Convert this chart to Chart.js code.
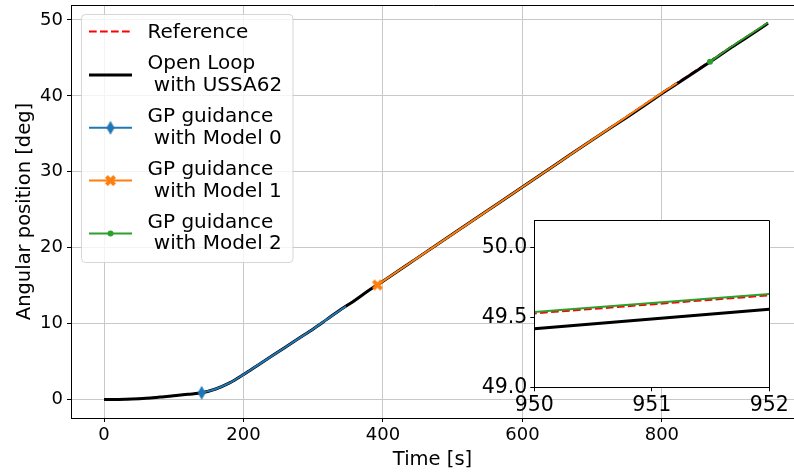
<!DOCTYPE html>
<html>
<head>
<meta charset="utf-8">
<script src="https://cdn.jsdelivr.net/npm/chart.js@4.4.1/dist/chart.umd.min.js"></script>
<style>
  html, body { margin: 0; padding: 0; overflow: hidden; background: #fff; }
  #wrap { position: relative; width: 794px; height: 472px; overflow: hidden; }
  #main { position: absolute; left: 0; top: 0; }
  #inset { position: absolute; left: 470px; top: 205px; }
</style>
</head>
<body>
<div id="wrap">
  <canvas id="main" width="794" height="472"></canvas>
  <canvas id="inset" width="324" height="230"></canvas>
</div>
<script>
// ---- data: time [s] and angular position [deg] ----
const timeOpenLoop = [0, 20, 40, 60, 80, 100, 120, 140, 160, 180, 200, 220, 240, 260, 280, 300, 320, 340, 360, 380, 400, 450, 500, 550, 600, 650, 700, 750, 800, 850, 900, 950, 952];
const angleOpenLoop = [0, 0.02, 0.07, 0.17, 0.33, 0.5, 0.7, 0.9, 1.4, 2.2, 3.3, 4.5, 5.7, 6.9, 8.1, 9.3, 10.6, 11.9, 13.1, 14.4, 15.6, 18.7, 21.8, 24.9, 28.0, 31.1, 34.2, 37.2, 40.3, 43.3, 46.4, 49.42, 49.56];

const timeReference = [0, 20, 40, 60, 80, 100, 120, 140, 160, 180, 200, 220, 240, 260, 280, 300, 320, 340, 360, 380, 400, 450, 500, 550, 600, 650, 700, 750, 800, 850, 900, 950, 952];
const angleReference = [0, 0.02, 0.07, 0.17, 0.33, 0.5, 0.7, 0.9, 1.4, 2.2, 3.3, 4.5, 5.7, 6.9, 8.1, 9.3, 10.6, 11.9, 13.1, 14.4, 15.6, 18.7, 21.8, 24.9, 28.0, 31.1, 34.2, 37.3, 40.4, 43.4, 46.5, 49.53, 49.66];

const timeModel0 = [140, 160, 180, 200, 220, 240, 260, 280, 300, 320, 347];
const angleModel0 = [0.9, 1.4, 2.2, 3.3, 4.5, 5.7, 6.9, 8.1, 9.3, 10.6, 12.3];

const timeModel1 = [392, 400, 450, 500, 550, 600, 650, 700, 750, 800, 822];
const angleModel1 = [15.1, 15.6, 18.7, 21.8, 24.9, 28.0, 31.1, 34.2, 37.3, 40.4, 41.7];

const timeModel2 = [869, 900, 950, 952];
const angleModel2 = [44.5, 46.5, 49.54, 49.67];

const xTicksMain = [0, 200, 400, 600, 800];
const yTicksMain = [0, 10, 20, 30, 40, 50];
const xTicksInset = [950, 951, 952];
const yTicksInset = [49.0, 49.5, 50.0];

const seriesLabels = ['Reference', 'Open Loop\n with USSA62', 'GP guidance\n with Model 0', 'GP guidance\n with Model 1', 'GP guidance\n with Model 2'];

// ---- marker glyphs ----
function thinDiamond(color, w, h) {
  const c = document.createElement('canvas');
  c.width = w + 2; c.height = h + 2;
  const g = c.getContext('2d');
  g.fillStyle = color;
  g.beginPath();
  g.moveTo(c.width / 2, 1);
  g.lineTo(c.width - 1, c.height / 2);
  g.lineTo(c.width / 2, c.height - 1);
  g.lineTo(1, c.height / 2);
  g.closePath();
  g.fill();
  return c;
}
function filledX(color, size, arm) {
  const c = document.createElement('canvas');
  c.width = size + 2; c.height = size + 2;
  const g = c.getContext('2d');
  const len = size * Math.SQRT2 - arm;
  g.fillStyle = color;
  g.translate(c.width / 2, c.height / 2);
  g.rotate(Math.PI / 4);
  g.fillRect(-len / 2, -arm / 2, len, arm);
  g.fillRect(-arm / 2, -len / 2, arm, len);
  return c;
}

const C_BLUE = '#1f77b4', C_ORANGE = '#ff7f0e', C_GREEN = '#2ca02c';
const diamondImg = thinDiamond(C_BLUE, 8, 14);
const xImg = filledX(C_ORANGE, 11, 4);

const pts = (t, a) => t.map((v, i) => ({ x: v, y: a[i] }));
const firstOnly = (arr, r) => arr.map((_, i) => (i === 0 ? r : 0));

function makeDatasets() {
  return [
    { label: seriesLabels[0], data: pts(timeReference, angleReference), borderColor: '#ff0000',
      borderWidth: 2, borderDash: [7.7, 3.3], pointRadius: 0, order: 5 },
    { label: seriesLabels[1], data: pts(timeOpenLoop, angleOpenLoop), borderColor: '#000000',
      borderWidth: 3, pointRadius: 0, order: 4 },
    { label: seriesLabels[2], data: pts(timeModel0, angleModel0), borderColor: C_BLUE,
      borderWidth: 2, pointRadius: firstOnly(timeModel0, 6), pointStyle: diamondImg,
      pointBackgroundColor: C_BLUE, order: 3, marker: 'diamond' },
    { label: seriesLabels[3], data: pts(timeModel1, angleModel1), borderColor: C_ORANGE,
      borderWidth: 2, pointRadius: firstOnly(timeModel1, 6), pointStyle: xImg,
      pointBackgroundColor: C_ORANGE, order: 2, marker: 'x' },
    { label: seriesLabels[4], data: pts(timeModel2, angleModel2), borderColor: C_GREEN,
      borderWidth: 2, pointRadius: firstOnly(timeModel2, 3), pointStyle: 'circle',
      pointBackgroundColor: C_GREEN, pointBorderWidth: 0, order: 1, marker: 'circle' }
  ];
}

Chart.defaults.font.family = 'DejaVu Sans';
Chart.defaults.color = '#000';

// keep the plotting area exactly where the layout puts it
function fixBox(size) {
  return function (s) {
    if (s.isHorizontal()) s.height = size; else s.width = size;
    s.paddingLeft = 0; s.paddingRight = 0; s.paddingTop = 0; s.paddingBottom = 0;
  };
}

// frame around the plotting area (the main axes run off the right edge)
const frame = {
  id: 'frame',
  afterDatasetsDraw(chart, args, opts) {
    const a = chart.chartArea, ctx = chart.ctx;
    const l = Math.round(a.left) + 0.5, t = Math.round(a.top) + 0.5;
    const r = Math.round(a.right) + 0.5, b = Math.round(a.bottom) + 0.5;
    ctx.save();
    ctx.strokeStyle = '#000';
    ctx.lineWidth = 1;
    ctx.beginPath();
    if (opts.openRight) {
      ctx.moveTo(a.right + 2, t); ctx.lineTo(l, t); ctx.lineTo(l, b); ctx.lineTo(a.right + 2, b);
    } else {
      ctx.rect(l, t, r - l, b - t);
    }
    ctx.stroke();
    ctx.restore();
  }
};

// white face for the zoomed axes
const whiteFace = {
  id: 'whiteFace',
  beforeDraw(chart) {
    const a = chart.chartArea, ctx = chart.ctx;
    ctx.save();
    ctx.fillStyle = '#fff';
    ctx.fillRect(a.left, a.top, a.right - a.left, a.bottom - a.top);
    ctx.restore();
  }
};

// boxed legend with multi-line entries
const boxLegend = {
  id: 'boxLegend',
  afterDraw(chart, args, opts) {
    const ctx = chart.ctx;
    const { x, y, w, h, r } = opts.box;
    ctx.save();
    ctx.beginPath();
    ctx.roundRect(x, y, w, h, r);
    ctx.fillStyle = 'rgba(255,255,255,0.8)';
    ctx.fill();
    ctx.strokeStyle = 'rgba(204,204,204,0.8)';
    ctx.lineWidth = 1;
    ctx.stroke();

    ctx.font = opts.fontSize + 'px "DejaVu Sans"';
    ctx.fillStyle = '#000';
    ctx.textBaseline = 'alphabetic';
    ctx.textAlign = 'left';
    let cy = opts.firstTop;
    chart.data.datasets.forEach(ds => {
      const lines = ds.label.split('\n');
      const blockH = lines.length * opts.lineH;
      const centre = cy + blockH / 2;
      lines.forEach((ln, i) => {
        const lc = cy + opts.lineH * (i + 0.5);
        ctx.fillText(ln, opts.textX, lc + opts.capHalf);
      });
      const hy = centre + (lines.length - 1) * 1.6;
      ctx.save();
      ctx.strokeStyle = ds.borderColor;
      ctx.lineWidth = ds.borderWidth;
      ctx.setLineDash(ds.borderDash || []);
      ctx.beginPath();
      ctx.moveTo(opts.handleX0, hy);
      ctx.lineTo(opts.handleX1, hy);
      ctx.stroke();
      ctx.restore();
      const mx = (opts.handleX0 + opts.handleX1) / 2;
      if (ds.marker === 'diamond' || ds.marker === 'x') {
        const img = ds.pointStyle;
        ctx.drawImage(img, mx - img.width / 2, hy - img.height / 2);
      } else if (ds.marker === 'circle') {
        ctx.beginPath();
        ctx.arc(mx, hy, 3, 0, Math.PI * 2);
        ctx.fillStyle = ds.pointBackgroundColor;
        ctx.fill();
        ctx.fillStyle = '#000';
      }
      cy += blockH + opts.gap;
    });
    ctx.restore();
  }
};

new Chart(document.getElementById('main'), {
  type: 'line',
  data: { datasets: makeDatasets() },
  plugins: [frame, boxLegend],
  options: {
    responsive: false,
    animation: false,
    events: [],
    devicePixelRatio: 1,
    layout: { autoPadding: false, padding: { top: 5, right: 0, left: 0, bottom: 0 } },
    elements: { line: { tension: 0, cubicInterpolationMode: 'monotone', borderCapStyle: 'butt' } },
    plugins: {
      legend: { display: false },
      tooltip: { enabled: false },
      frame: { openRight: true },
      boxLegend: {
        box: { x: 81.5, y: 14.5, w: 211.5, h: 248, r: 4 },
        fontSize: 20, lineH: 21.7, gap: 9.4, firstTop: 20.6, capHalf: 6.8,
        textX: 147.5, handleX0: 89, handleX1: 132
      }
    },
    scales: {
      x: {
        type: 'linear', min: -47.4, max: 989.5,
        afterBuildTicks(s) { s.ticks = xTicksMain.map(v => ({ value: v })); },
        afterFit: fixBox(54),
        ticks: { font: { size: 18 }, padding: 3, maxRotation: 0, autoSkip: false, callback: v => String(v) },
        grid: { color: '#c8c8c8', lineWidth: 1, tickLength: 4, tickColor: '#000' },
        border: { color: '#000', width: 1 },
        title: { display: true, text: 'Time [s]', font: { size: 19.5 }, padding: { top: 0, bottom: 0 } }
      },
      y: {
        type: 'linear', min: -2.42, max: 51.97,
        afterBuildTicks(s) { s.ticks = yTicksMain.map(v => ({ value: v })); },
        afterFit: fixBox(71),
        ticks: { font: { size: 18 }, padding: 4, autoSkip: false, callback: v => String(v) },
        grid: { color: '#c8c8c8', lineWidth: 1, tickLength: 4, tickColor: '#000' },
        border: { color: '#000', width: 1 },
        title: { display: true, text: 'Angular position [deg]', font: { size: 19.5 }, padding: { top: 13, bottom: 0 } }
      }
    }
  }
});

new Chart(document.getElementById('inset'), {
  type: 'line',
  data: { datasets: makeDatasets() },
  plugins: [whiteFace, frame],
  options: {
    responsive: false,
    animation: false,
    events: [],
    devicePixelRatio: 1,
    layout: { autoPadding: false, padding: { top: 15, right: 24.7, left: 0, bottom: 0 } },
    elements: { line: { tension: 0, borderCapStyle: 'butt' } },
    plugins: { legend: { display: false }, tooltip: { enabled: false }, frame: { openRight: false } },
    scales: {
      x: {
        type: 'linear', min: 950, max: 952,
        afterBuildTicks(s) { s.ticks = xTicksInset.map(v => ({ value: v })); },
        afterFit: fixBox(47.7),
        ticks: { font: { size: 20.5 }, padding: 2, maxRotation: 0, autoSkip: false, callback: v => String(v) },
        grid: { drawOnChartArea: false, tickLength: 4, tickColor: '#000' },
        border: { color: '#000', width: 1 }
      },
      y: {
        type: 'linear', min: 49.0, max: 50.2,
        afterBuildTicks(s) { s.ticks = yTicksInset.map(v => ({ value: v })); },
        afterFit: fixBox(64.3),
        ticks: { font: { size: 20.5 }, padding: 3, autoSkip: false, callback: v => v.toFixed(1) },
        grid: { drawOnChartArea: false, tickLength: 4, tickColor: '#000' },
        border: { color: '#000', width: 1 }
      }
    }
  }
});
</script>
</body>
</html>
